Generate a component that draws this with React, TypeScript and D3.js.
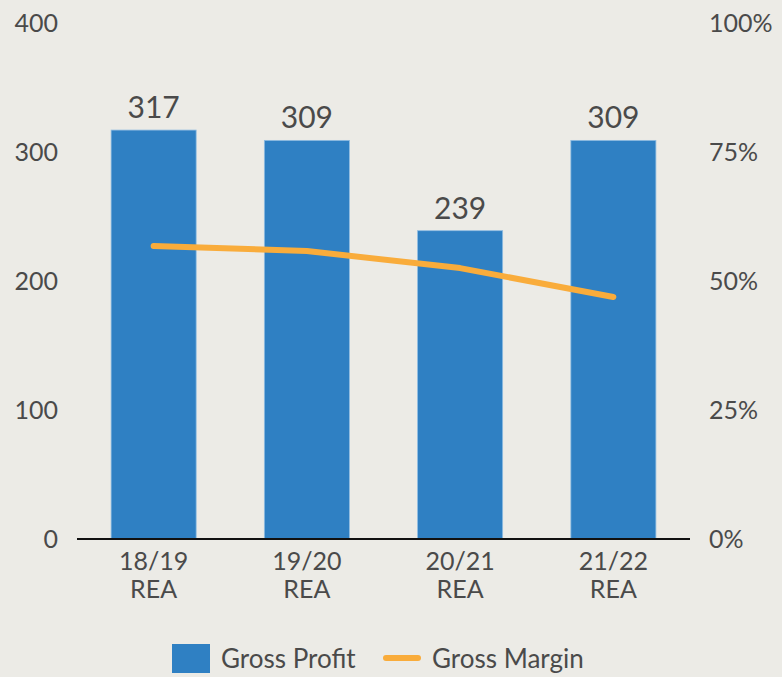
import React from "react";
import * as d3 from "d3";

const categories = ["18/19 REA", "19/20 REA", "20/21 REA", "21/22 REA"];
const grossProfit = [317, 309, 239, 309];
const grossMargin = [56.8, 55.8, 52.5, 46.9];
const leftTicks = [0, 100, 200, 300, 400];
const rightTicks = [0, 25, 50, 75, 100];
const seriesNames = ["Gross Profit", "Gross Margin"];

const W = 782;
const H = 677;
const BG = "#ECEBE6";
const BLUE = "#2F80C3";
const ORANGE = "#F9AC3B";
const TEXT = "#4A4A4A";
const FONT = "Lato, 'Noto Sans', sans-serif";

export default function App() {
  const x = d3
    .scaleBand<string>()
    .domain(categories)
    .range([77, 690])
    .paddingInner(0.445)
    .paddingOuter(0.2225);
  const yL = d3.scaleLinear().domain([0, 400]).range([539, 23]);
  const yR = d3.scaleLinear().domain([0, 100]).range([539, 23]);
  const line = d3
    .line<number>()
    .x((_, i) => (x(categories[i]) as number) + x.bandwidth() / 2)
    .y((d) => yR(d));

  return (
    <svg
      width={W}
      height={H}
      style={{ position: "absolute", left: 0, top: 0, display: "block" }}
      fontFamily={FONT}
    >
      <rect x={0} y={0} width={W} height={H} fill={BG} />
      {leftTicks.map((t) => (
        <text key={"l" + t} x={58} y={yL(t)} dy="0.36em" textAnchor="end" fontSize={25} fill={TEXT}>
          {t}
        </text>
      ))}
      {rightTicks.map((t) => (
        <text key={"r" + t} x={709} y={yR(t)} dy="0.36em" textAnchor="start" fontSize={25} fill={TEXT}>
          {t + "%"}
        </text>
      ))}
      {categories.map((c, i) => {
        const bx = x(c) as number;
        return (
          <g key={c}>
            <rect
              x={bx}
              y={yL(grossProfit[i])}
              width={x.bandwidth()}
              height={yL(0) - yL(grossProfit[i])}
              fill={BLUE}
              stroke="#8FBCE2"
              strokeWidth={0.8}
            />
            <text x={bx + x.bandwidth() / 2} y={yL(grossProfit[i]) - 12} textAnchor="middle" fontSize={30} fill={TEXT}>
              {grossProfit[i]}
            </text>
            {c.split(" ").map((part, j) => (
              <text key={j} x={bx + x.bandwidth() / 2} y={570 + j * 28} textAnchor="middle" fontSize={25} fill={TEXT}>
                {part}
              </text>
            ))}
          </g>
        );
      })}
      <line x1={77} x2={690} y1={539} y2={539} stroke="#111" strokeWidth={2} />
      <path d={line(grossMargin) || ""} fill="none" stroke={ORANGE} strokeWidth={6} strokeLinecap="round" strokeLinejoin="round" />
      <rect x={172} y={644} width={38} height={29} fill={BLUE} />
      <text x={221} y={668} fontSize={26} fill={TEXT}>{seriesNames[0]}</text>
      <line x1={386} x2={418} y1={658} y2={658} stroke={ORANGE} strokeWidth={6} strokeLinecap="round" />
      <text x={432} y={668} fontSize={26} fill={TEXT}>{seriesNames[1]}</text>
    </svg>
  );
}
